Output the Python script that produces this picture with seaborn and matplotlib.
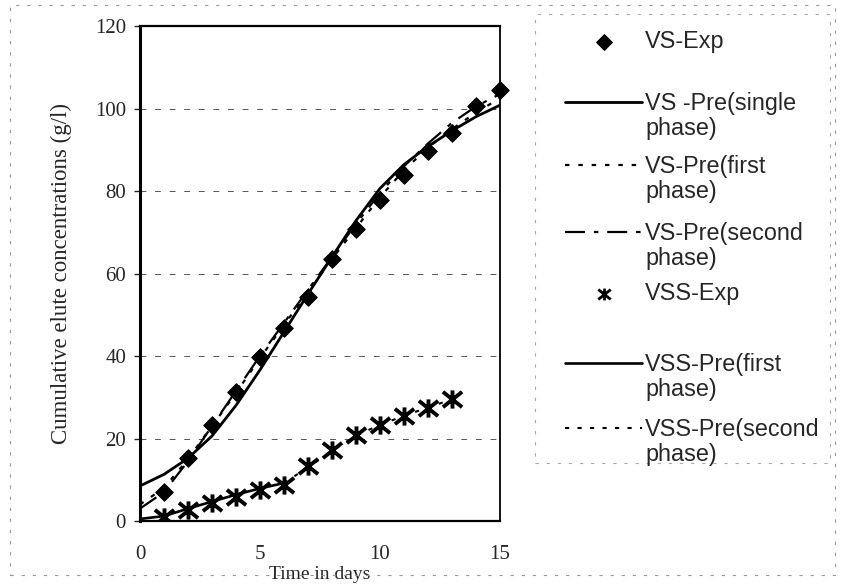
import numpy as np
import pandas as pd
import matplotlib
matplotlib.use("Agg")
import matplotlib.pyplot as plt
from matplotlib.path import Path
from matplotlib.patches import Rectangle
from matplotlib.lines import Line2D
import seaborn as sns

# data
days = list(range(0, 16))
vs_exp_days = list(range(1, 16))
vs_exp = [7.1, 15.2, 23.3, 31.3, 39.8, 46.8, 54.4, 63.4, 70.8, 77.8, 83.9, 89.6, 94.0, 100.6, 104.5]
vs_pre_single = [8.5, 11.3, 15.2, 20.6, 28.0, 36.6, 45.8, 55.0, 64.0, 72.8, 80.6, 86.4, 90.8, 94.6, 98.0, 100.8]
vs_pre_first = [4.0, 8.0, 15.0, 23.0, 31.0, 39.5, 47.5, 55.5, 63.5, 71.0, 78.5, 85.0, 90.5, 95.0, 99.0, 102.5]
vs_pre_second = [3.0, 7.0, 14.5, 23.0, 31.5, 40.0, 48.0, 56.0, 64.0, 72.0, 79.5, 86.0, 91.5, 96.5, 100.5, 103.5]

vss_exp_days = list(range(1, 14))
vss_exp = [1.0, 2.7, 4.4, 5.9, 7.5, 8.7, 13.3, 17.2, 20.8, 23.3, 25.5, 27.5, 29.5]
vss_first_days = list(range(0, 7))
vss_pre_first = [0.5, 1.2, 3.0, 4.7, 6.4, 7.9, 9.2]
vss_second_days = list(range(6, 14))
vss_pre_second = [9.2, 13.0, 17.0, 20.7, 23.3, 25.5, 27.5, 29.5]

labels = ["VS-Exp", "VS -Pre(single\nphase)", "VS-Pre(first\nphase)", "VS-Pre(second\nphase)",
          "VSS-Exp", "VSS-Pre(first\nphase)", "VSS-Pre(second\nphase)"]
# first-line centre of each legend entry, in pixels from the top
legend_rows_px = [40, 102, 165, 232, 292, 363, 428]

sns.set_style("white")
plt.rcParams['font.family'] = ['Liberation Serif', 'DejaVu Serif']

W, H = 843, 587
fig = plt.figure(figsize=(W / 100, H / 100), dpi=100)
ax = fig.add_axes([0.166, 0.1124, 0.427, 0.8433])

# faint scanned frames round the chart and the legend
fig.patches.append(Rectangle((0.012, 0.02), 0.978, 0.972, transform=fig.transFigure,
                             fill=False, edgecolor='#999999', lw=0.8, linestyle=(0, (3, 7))))
fig.patches.append(Rectangle((535 / W, 1 - 463 / H), 295 / W, 449 / H, transform=fig.transFigure,
                             fill=False, edgecolor='#aaaaaa', lw=0.8, linestyle=(0, (3, 7))))

for yv in [20, 40, 60, 80, 100]:
    ax.axhline(yv, color='#555555', lw=0.7, linestyle=(0, (6, 9)), zorder=0)

# asterisk-like marker: an X with a vertical bar
star = Path([(-1, -0.8), (1, 0.8), (-1, 0.8), (1, -0.8), (0, -0.95), (0, 0.95)],
            [Path.MOVETO, Path.LINETO, Path.MOVETO, Path.LINETO, Path.MOVETO, Path.LINETO])

df_vs = pd.DataFrame({'day': vs_exp_days, 'value': vs_exp})
df_single = pd.DataFrame({'day': days, 'value': vs_pre_single})
df_first = pd.DataFrame({'day': days, 'value': vs_pre_first})
df_second = pd.DataFrame({'day': days, 'value': vs_pre_second})
df_vss = pd.DataFrame({'day': vss_exp_days, 'value': vss_exp})
df_vss1 = pd.DataFrame({'day': vss_first_days, 'value': vss_pre_first})
df_vss2 = pd.DataFrame({'day': vss_second_days, 'value': vss_pre_second})

sns.scatterplot(data=df_vs, x='day', y='value', ax=ax, marker='D', s=80, color='black',
                edgecolor='black', label=labels[0], zorder=3, clip_on=False)
sns.lineplot(data=df_single, x='day', y='value', ax=ax, color='black', lw=2.0,
             linestyle='-', label=labels[1])
sns.lineplot(data=df_first, x='day', y='value', ax=ax, color='black', lw=1.6,
             linestyle=(0, (2, 4)), label=labels[2])
sns.lineplot(data=df_second, x='day', y='value', ax=ax, color='black', lw=1.6,
             linestyle=(0, (9, 4, 2, 4)), label=labels[3])
sns.scatterplot(data=df_vss, x='day', y='value', ax=ax, marker=star, s=190, color='black',
                edgecolor='black', linewidths=2.8, label=labels[4], zorder=3)
sns.lineplot(data=df_vss1, x='day', y='value', ax=ax, color='black', lw=1.9,
             linestyle='-', label=labels[5])
sns.lineplot(data=df_vss2, x='day', y='value', ax=ax, color='black', lw=1.5,
             linestyle=(0, (2, 4)), label=labels[6])

ax.set_xlim(0, 15)
ax.set_ylim(0, 120)
ax.set_xticks([0, 5, 10, 15])
ax.set_yticks([0, 20, 40, 60, 80, 100, 120])
ax.tick_params(axis='x', length=0, pad=17, labelsize=15)
ax.tick_params(axis='y', length=4, width=1, direction='out', pad=6, labelsize=15, left=True)

ax.set_xlabel("Time in days", fontsize=14)
ax.xaxis.set_label_coords(0.5, -0.09)
ax.set_ylabel("Cumulative elute concentrations (g/l)", fontsize=16.5)
ax.yaxis.set_label_coords(-0.19, 0.5)

for side, w in [('left', 2.2), ('top', 1.6), ('right', 1.3), ('bottom', 1.6)]:
    ax.spines[side].set_visible(True)
    ax.spines[side].set_color('black')
    ax.spines[side].set_linewidth(w)

handles, labs = ax.get_legend_handles_labels()
ax.get_legend().remove()

# one legend per entry, so the uneven spacing of the original can be kept
blank = Line2D([], [], linestyle='none', marker='none')
for i, (h, lab, ypx) in enumerate(zip(handles, labs, legend_rows_px)):
    parts = lab.split("\n")
    hs = [h] + [blank] * (len(parts) - 1)
    leg = fig.legend(hs, parts, loc='upper left', bbox_to_anchor=(565 / W, 1 - (ypx - 10) / H),
                     prop={'family': ['Liberation Sans', 'DejaVu Sans'], 'size': 16.8},
                     handlelength=3.3, handletextpad=0.13, labelspacing=0.08,
                     frameon=False, borderpad=0, borderaxespad=0)
    if i == 0:
        leg.legend_handles[0].set_sizes([65])
    if i == 4:
        leg.legend_handles[0].set_sizes([80])
        leg.legend_handles[0].set_linewidths([2.0])

fig.savefig("out.png", dpi=100)
